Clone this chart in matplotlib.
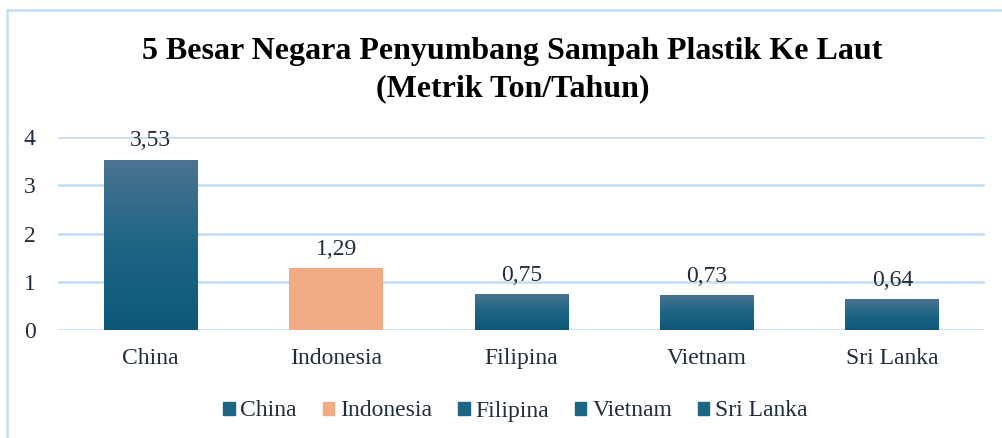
import matplotlib
matplotlib.use("Agg")
import matplotlib.pyplot as plt
import numpy as np
from matplotlib.patches import Rectangle
from matplotlib.colors import LinearSegmentedColormap

categories = ["China", "Indonesia", "Filipina", "Vietnam", "Sri Lanka"]
values = [3.53, 1.29, 0.75, 0.73, 0.64]
value_labels = ["3,53", "1,29", "0,75", "0,73", "0,64"]
yticks = [0, 1, 2, 3, 4]

plt.rcParams['font.family'] = ['Liberation Serif', 'DejaVu Serif']
text_color = "#1f2d3d"
grid_color = "#c8dcf0"
blue_top = "#4d7491"
blue_mid = "#1d6585"
blue_bot = "#0d5879"
orange = "#f2ab84"

fig = plt.figure(figsize=(10.03, 4.38), dpi=100)
W, H = 1003, 438
ax = fig.add_axes([58 / W, 1 - 330 / H, (985 - 58) / W, (330 - 137) / H])

x = np.arange(len(categories))
width = 0.505
cmap = LinearSegmentedColormap.from_list("g", [blue_bot, blue_mid, blue_top])
grad = np.linspace(0, 1, 256).reshape(-1, 1)
for i, (xi, v) in enumerate(zip(x, values)):
    if categories[i] == "Indonesia":
        ax.bar(xi, v, width=width, color=orange, zorder=3)
    else:
        bars = ax.bar(xi, v, width=width, color="none", zorder=3)
        im = ax.imshow(grad, cmap=cmap, aspect="auto", origin="lower",
                       extent=[xi - width / 2, xi + width / 2, 0, v], zorder=3)
        im.set_clip_path(bars[0])
    ax.text(xi, v + 0.17, value_labels[i], ha="center", va="bottom",
            fontsize=17, color=text_color)

ax.set_xlim(-0.5, len(categories) - 0.5)
ax.set_ylim(0, 4)
ax.set_yticks(yticks)
ax.set_yticklabels([str(t) for t in yticks], fontsize=17, color=text_color)
ax.set_xticks(x)
ax.set_xticklabels(categories, fontsize=17, color=text_color, va="baseline")
ax.tick_params(axis="both", length=0)
ax.tick_params(axis="x", pad=24.5)
ax.tick_params(axis="y", pad=16)
for s in ax.spines.values():
    s.set_visible(False)
ax.grid(axis="y", color=grid_color, linewidth=1.8, zorder=0)
ax.set_axisbelow(True)

fig.text(0.511, 1 - 52 / H, "5 Besar Negara Penyumbang Sampah Plastik Ke Laut",
         ha="center", va="center", fontsize=23, fontweight="bold", color="black")
fig.text(0.511, 1 - 89 / H, "(Metrik Ton/Tahun)",
         ha="center", va="center", fontsize=23, fontweight="bold", color="black")

handles = [Rectangle((0, 0), 1, 1, color=(orange if c == "Indonesia" else blue_mid))
           for c in categories]
fig.legend(handles, categories, loc="center", bbox_to_anchor=(0.514, 1 - 411 / H),
           ncol=5, frameon=False, fontsize=17, handlelength=0.48, handleheight=0.48,
           handletextpad=0.25, columnspacing=1.1, labelcolor=text_color)

border = Rectangle((7 / W, -0.05), 1.1, 1 - 10 / H + 0.05, transform=fig.transFigure,
                   fill=False, edgecolor="#c5dcf2", linewidth=1.8)
fig.patches.append(border)

fig.savefig("out.png", dpi=100)
